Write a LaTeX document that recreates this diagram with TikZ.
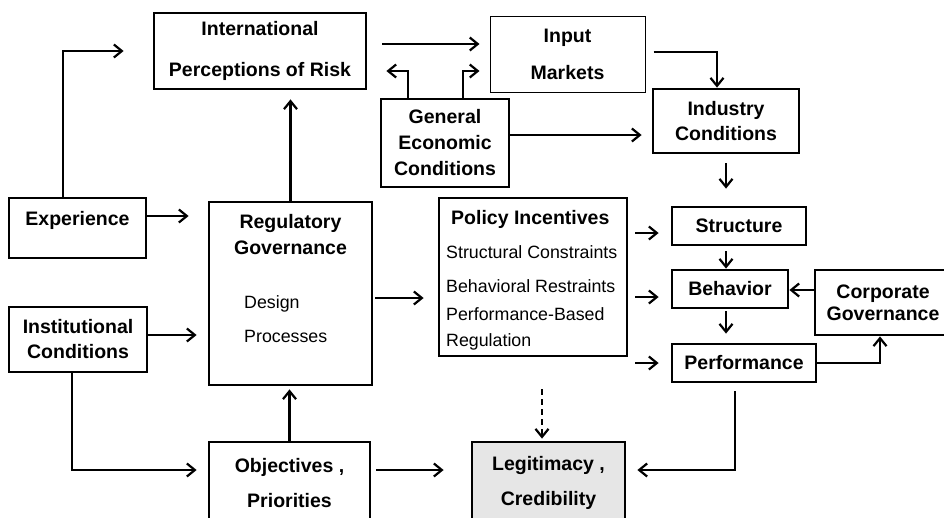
\documentclass[tikz,border=0pt]{standalone}
\usepackage{fontspec}
\setmainfont{Liberation Sans}
\usetikzlibrary{
    arrows.meta,
    positioning,
    calc
}
\tikzset{
  box/.style  = {draw, line width=2.8pt, inner sep=0pt, align=center,
                 font=\bfseries\fontsize{19.5}{23}\selectfont},
  btxt/.style = {inner sep=0pt, align=center,
                 font=\bfseries\fontsize{19.5}{23}\selectfont},
  txt/.style  = {inner sep=0pt, align=left,
                 font=\fontsize{17.8}{21}\selectfont},
  arr/.style  = {-{Straight Barb[length=8pt, width=13pt]}, line width=2.2pt},
  darr/.style = {arr, dash pattern=on 6pt off 4pt}
}
\definecolor{LegGray}{RGB}{230,230,230}

\begin{document}
\begin{tikzpicture}[x=1pt, y=-1pt]
\useasboundingbox (0,0) rectangle (944,517);

% top row
\node[box, minimum width=212pt, minimum height=76pt] (intl) at (260,51)
      {International\\[18pt]Perceptions of Risk};
\node[box, line width=1pt, minimum width=155pt, minimum height=76pt] (inp) at (567.5,54)
      {Input\\[14pt]Markets};
\node[box, minimum width=128pt, minimum height=88pt] (gen) at (445,143)
      {General\\[3pt]Economic\\[3pt]Conditions};
\node[box, minimum width=146pt, minimum height=64pt] (ind) at (726,121)
      {Industry\\[2pt]Conditions};

% left column
\node[box, minimum width=137pt, minimum height=60pt,
      label={[btxt, yshift=8pt]center:Experience}] (exp) at (77.5,228) {};
\node[box, minimum width=138pt, minimum height=65pt] (inst) at (78,339.5)
      {Institutional\\[2pt]Conditions};

% regulatory governance
\node[box, minimum width=163pt, minimum height=183pt] (reg) at (290.5,293.5) {};
\node[btxt] (regt) at (290.5,235) {Regulatory\\[3pt]Governance};
\node[txt, anchor=west] (regd) at (244,319) {Design\\[13pt]Processes};

% policy incentives
\node[box, minimum width=188pt, minimum height=158pt] (pol) at (533,277) {};
\node[btxt, anchor=west] (polt) at (451,219) {Policy Incentives};
\node[txt, anchor=north west] (poll) at (446,245)
      {Structural Constraints\\[13pt]Behavioral Restraints\\[7pt]Performance-Based\\[5pt]Regulation};

% industry side
\node[box, minimum width=134pt, minimum height=38pt] (str) at (739,226) {Structure};
\node[box, minimum width=116pt, minimum height=38pt] (beh) at (730,289) {Behavior};
\node[box, minimum width=144pt, minimum height=38pt] (perf) at (744,363) {Performance};
\node[box, minimum width=136pt, minimum height=65pt] (corp) at (883,302.5)
      {Corporate\\[-1pt]Governance};

% bottom row
\node[box, minimum width=161pt, minimum height=82pt] (obj) at (289.5,483)
      {Objectives ,\\[12pt]Priorities};
\node[box, fill=LegGray, minimum width=153pt, minimum height=82pt] (leg) at (548.5,483)
      {Legitimacy ,\\[12pt]Credibility};

% connectors
\draw[arr, shorten >=29pt] ($(exp.north)+(-14.5,0)$) |- (intl.west);
\draw[arr, shorten <=15pt, shorten >=10pt] ($(intl.east)+(0,-7)$) -- ($(inp.west)+(0,-10)$);
\draw[arr, shorten >=19pt] ($(gen.north)+(-37,0)$) |- ($(intl.east)+(0,20)$);
\draw[arr, shorten >=10pt] ($(gen.north)+(18,0)$) |- ($(inp.west)+(0,17)$);
\draw[arr, shorten <=8pt] ($(inp.east)+(0,-2)$) -| ($(ind.north)+(-9,0)$);
\draw[arr, shorten >=10pt] ($(gen.east)+(0,-8)$) -- ($(ind.west)+(0,14)$);
\draw[arr, shorten <=9pt, shorten >=17pt] (ind.south) -- (ind.south |- str.north);

\draw[arr, shorten >=19pt] ($(exp.east)+(0,-12)$) -- ($(reg.west)+(0,-77.5)$);
\draw[arr, shorten >=11pt] ($(inst.east)+(0,-4.5)$) -- ($(reg.west)+(0,41.5)$);
\draw[arr, shorten >=9pt] (reg.north) -- (reg.north |- intl.south);
\draw[arr, shorten <=2pt, shorten >=14pt] ($(reg.east)+(0,4.5)$) -- ($(pol.west)+(0,21)$);

\draw[arr, shorten <=7pt, shorten >=12pt] ($(pol.east)+(0,-44)$) -- ($(str.west)+(0,7)$);
\draw[arr, shorten <=7pt, shorten >=12pt] ($(pol.east)+(0,20)$) -- ($(beh.west)+(0,8)$);
\draw[arr, shorten <=7pt, shorten >=12pt] ($(pol.east)+(0,86)$) -- (perf.west);
\draw[arr, shorten <=5pt] ($(str.south)+(-13,0)$) -- ($(beh.north)+(-4,0)$);
\draw[arr, shorten <=2pt, shorten >=9pt] ($(beh.south)+(-4,0)$) -- ($(perf.north)+(-18,0)$);
\draw[arr] ($(corp.west)+(0,-12.5)$) -- ($(beh.east)+(0,1)$);
\draw[arr] (perf.east) -| ($(corp.south)+(-3,0)$);

\draw[arr, shorten <=8pt, shorten >=11pt] ($(perf.south)+(-9,0)$) |- ($(leg.east)+(0,-13)$);
\draw[arr, shorten >=11pt] ($(inst.south)+(-6,0)$) |- ($(obj.west)+(0,-13)$);
\draw[arr, shorten >=3pt] (obj.north) -- ($(reg.south)+(-1,0)$);
\draw[arr, shorten <=5pt, shorten >=27pt] ($(obj.east)+(0,-13)$) -- ($(leg.west)+(0,-13)$);
\draw[darr] ($(pol.south)+(9,32)$) -- ($(leg.north)+(-6.5,-2)$);
\end{tikzpicture}
\end{document}
